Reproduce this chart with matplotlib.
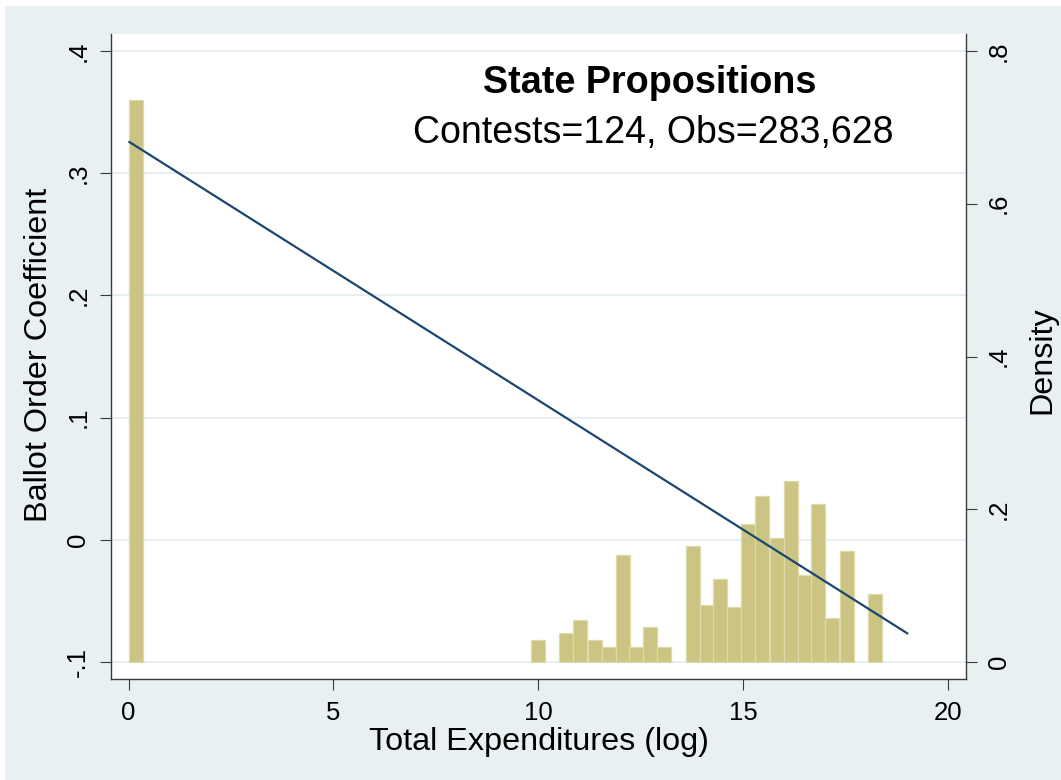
import matplotlib
matplotlib.use("Agg")
import matplotlib.pyplot as plt
from matplotlib.patches import Rectangle
from matplotlib.ticker import FixedLocator, FuncFormatter

plt.rcParams['font.family'] = ['Liberation Sans', 'DejaVu Sans']

# Histogram of total expenditures (log), density per bin
bin_width = 0.3415
bin_lefts = [0.00, 9.83, 10.51, 10.85, 11.20, 11.54, 11.88, 12.22, 12.56, 12.90,
             13.59, 13.93, 14.27, 14.61, 14.95, 15.29, 15.64, 15.98, 16.32,
             16.66, 17.00, 17.35, 18.03]
densities = [0.736, 0.0293, 0.0385, 0.0555, 0.0293, 0.0192, 0.1397, 0.0192,
             0.0454, 0.0192, 0.1514, 0.0742, 0.1082, 0.0720, 0.1811, 0.2177,
             0.1623, 0.2365, 0.1143, 0.2073, 0.0580, 0.1453, 0.0890]

# Linear fit of ballot order coefficient on expenditures
fit_x = [0.0, 19.02]
fit_y = [0.326, -0.077]

coef_ticks = [-0.1, 0.0, 0.1, 0.2, 0.3, 0.4]
density_ticks = [0.0, 0.2, 0.4, 0.6, 0.8]
x_ticks = [0, 5, 10, 15, 20]

title = "State Propositions"
subtitle = "Contests=124, Obs=283,628"

BG = "#E8F0F2"
GRID = "#E6EEF1"
SPINE = "#3a3a3a"
BAR = "#CBC483"
BAR_EDGE = "#DEDAAA"
LINE = "#1A476F"


def stata_fmt(v, pos=None):
    s = f"{v:g}"
    if s.startswith("0."):
        s = s[1:]
    elif s.startswith("-0."):
        s = "-" + s[2:]
    return s


fig = plt.figure(figsize=(10.61, 7.80), dpi=100)
fig.patch.set_facecolor("white")
fig.patches.append(Rectangle((5 / 1061, 0), 1 - 5 / 1061, 1 - 6 / 780,
                             transform=fig.transFigure, facecolor=BG,
                             edgecolor="none", zorder=-5))

ax = fig.add_axes([111 / 1061, 1 - 679 / 780, 855 / 1061, 645 / 780])
ax.set_facecolor("white")
ax2 = ax.twinx()

xlim = (-0.427, 20.43)
ylim = (-0.1139, 0.4139)
ax.set_xlim(*xlim)
ax.set_ylim(*ylim)


# density axis: -0.1 on the coefficient axis is density 0, 0.4 is density 0.8
def to_density(c):
    return (c - coef_ticks[0]) * density_ticks[-1] / (coef_ticks[-1] - coef_ticks[0])


ax2.set_ylim(to_density(ylim[0]), to_density(ylim[1]))

ax.yaxis.set_major_locator(FixedLocator(coef_ticks))
ax2.yaxis.set_major_locator(FixedLocator(density_ticks))
ax.xaxis.set_major_locator(FixedLocator(x_ticks))
ax.yaxis.set_major_formatter(FuncFormatter(stata_fmt))
ax2.yaxis.set_major_formatter(FuncFormatter(stata_fmt))

ax.grid(axis="y", color=GRID, linewidth=1.3)
ax.set_axisbelow(True)

ax2.bar(bin_lefts, densities, width=bin_width, align="edge", color=BAR,
        edgecolor=BAR_EDGE, linewidth=0.9, zorder=1)
ax2.plot(fit_x, fit_y, color=LINE, linewidth=1.6, transform=ax.transData,
         zorder=3, solid_capstyle="butt")

for a in (ax, ax2):
    a.spines["top"].set_visible(False)
    for s in ("left", "right", "bottom"):
        a.spines[s].set_color(SPINE)
        a.spines[s].set_linewidth(1.0)
ax.spines["right"].set_visible(False)
ax2.spines["left"].set_visible(False)
ax2.spines["bottom"].set_visible(False)

tick_kw = dict(length=8, width=0.8, color=SPINE, labelsize=18.5,
               labelcolor="black", direction="out")
ax.tick_params(axis="x", pad=8, **tick_kw)
ax.tick_params(axis="y", pad=7, labelrotation=90, **tick_kw)
ax2.tick_params(axis="y", pad=7, labelrotation=90, **tick_kw)
for lab in ax.get_yticklabels() + ax2.get_yticklabels():
    lab.set_verticalalignment("center")

ax.set_xlabel("Total Expenditures (log)", fontsize=23.3)
ax.xaxis.set_label_coords(0.5, -0.098)
ax.xaxis.label.set_verticalalignment("center")
ax.set_ylabel("Ballot Order Coefficient", fontsize=23.3)
ax.yaxis.set_label_coords(-0.084, 0.502)
ax.yaxis.label.set_verticalalignment("center")
ax2.set_ylabel("Density", fontsize=23.3, rotation=90)
ax2.yaxis.set_label_coords(1.089, 0.495)
ax2.yaxis.label.set_verticalalignment("center")

ax.text(0.630, 0.909, title, transform=ax.transAxes, ha="center",
        va="baseline", fontsize=27.2, fontweight="bold")
ax.text(0.634, 0.831, subtitle, transform=ax.transAxes, ha="center",
        va="baseline", fontsize=27)

fig.savefig("out.png", dpi=100)
